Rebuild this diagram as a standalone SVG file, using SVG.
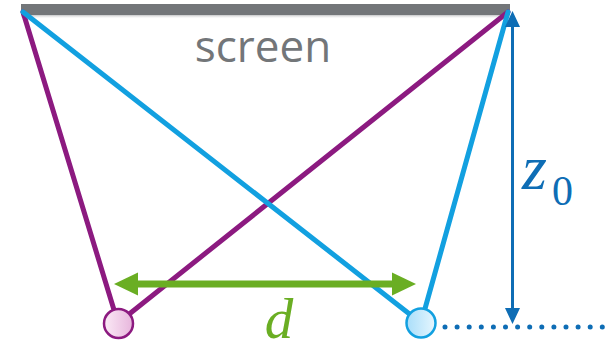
<svg xmlns="http://www.w3.org/2000/svg" width="615" height="350" viewBox="0 0 615 350">
<style>
.ray{stroke-width:5;fill:none;stroke-linecap:round}
.purple{stroke:#8c1a80}
.blue{stroke:#12a0e0}
.lbl{font-family:"Liberation Serif","DejaVu Serif",serif;font-style:italic}
.green{fill:#6aae23}
.dblue{fill:#0e6db5}
</style>
<defs>
<linearGradient id="gPink" x1="0" y1="0" x2="1" y2="0">
<stop offset="0" stop-color="#fbeaf6"/><stop offset="1" stop-color="#e7b5dc"/>
</linearGradient>
<linearGradient id="gBlue" x1="0" y1="0" x2="1" y2="0">
<stop offset="0" stop-color="#a9defa"/><stop offset="1" stop-color="#e6f6fe"/>
</linearGradient>
<linearGradient id="gShadow" x1="0" y1="0" x2="0" y2="1">
<stop offset="0" stop-color="#9a9c9e" stop-opacity="0.6"/><stop offset="1" stop-color="#ffffff" stop-opacity="0"/>
</linearGradient>
</defs>
<g id="screen">
<rect x="21" y="15" width="489" height="4" fill="url(#gShadow)"/>
<rect x="21" y="4" width="489" height="11" fill="#737679"/>
<text x="263" y="62" text-anchor="middle" font-family="'Open Sans','Noto Sans',sans-serif" font-size="44" fill="#737679">screen</text>
</g>
<g id="connectors">
<line class="ray purple" x1="23" y1="12" x2="118" y2="323"/>
<line class="ray purple" x1="508" y1="12" x2="118" y2="323"/>
<line class="ray blue" x1="23" y1="12" x2="421" y2="323"/>
<line class="ray blue" x1="508" y1="12" x2="421" y2="323"/>
<line x1="134" y1="284" x2="396" y2="284" stroke="#6aae23" stroke-width="7"/>
<path class="green" d="M114,284 L138,272.5 L138,295.5 z"/>
<path class="green" d="M416,284 L392,272.5 L392,295.5 z"/>
<line x1="512.5" y1="24" x2="512.5" y2="312" stroke="#0e6db5" stroke-width="3"/>
<path class="dblue" d="M512.5,11 L520,27 L505,27 z"/>
<path class="dblue" d="M512.5,324 L520,308 L505,308 z"/>
<line x1="445" y1="327" x2="612" y2="327" stroke="#0e6db5" stroke-width="5" stroke-linecap="round" stroke-dasharray="0 12.1"/>
</g>
<g id="eye-left">
<circle cx="118.5" cy="323.5" r="14.5" fill="url(#gPink)" stroke="#8c1a80" stroke-width="2.5"/>
</g>
<g id="eye-right">
<circle cx="421" cy="323" r="14.5" fill="url(#gBlue)" stroke="#12a0e0" stroke-width="2.5"/>
</g>
<g id="label-d">
<text class="lbl" x="279" y="338" text-anchor="middle" font-size="57" fill="#6aae23">d</text>
</g>
<g id="label-z0">
<text class="lbl" x="522" y="189" font-size="64" fill="#0e6db5">z</text>
<text x="552" y="205" font-family="'Liberation Serif','DejaVu Serif',serif" font-size="42" fill="#0e6db5">0</text>
</g>
</svg>
